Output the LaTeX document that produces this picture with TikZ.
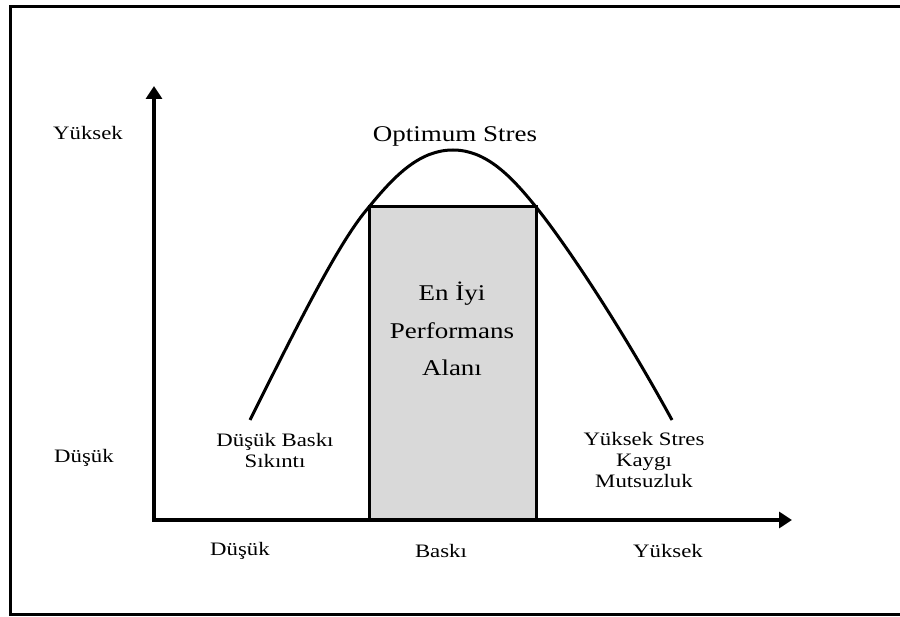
\documentclass[tikz,border=0pt]{standalone}
\usepackage{fontspec}
\setmainfont[FakeStretch=1.2]{Liberation Serif}
\usetikzlibrary{arrows.meta}

\begin{document}
\begin{tikzpicture}[x=1pt,y=-1pt,
  lbl/.style={font=\fontsize{19}{21}\selectfont,align=center,inner sep=0pt},
  big/.style={font=\fontsize{22.5}{37.5}\selectfont,align=center,inner sep=0pt},
  axis/.style={line width=3.5pt,-{Triangle[length=13pt,width=16pt]}},
  zone/.style={draw,line width=3pt,fill=black!15}]
  \useasboundingbox (0,0) rectangle (900,617);
  % frame, right side runs off the page
  \begin{scope}
    \clip (0,0) rectangle (900,617);
    \draw[line width=3pt] (10,7) rectangle (930,614);
  \end{scope}
  % best performance zone
  \draw[zone] (369,207) rectangle (536,520);
  \node[big] (zonetext) at (452,329) {En İyi\\Performans\\Alanı};
  % axes
  \coordinate (origin) at (154,520);
  \coordinate (ytip) at (154,86);
  \coordinate (xtip) at (792,520);
  \draw[axis] ([yshift=1.75pt]origin) -- (ytip);
  \draw[axis] ([xshift=-1.75pt]origin) -- (xtip);
  % stress curve
  \draw[line width=3pt] (250,420) .. controls (300,320) and (340,240) .. (369,207)
    .. controls (395,175) and (420,150) .. (453,150)
    .. controls (486,150) and (511,176) .. (536,207)
    .. controls (565,243) and (620,325) .. (672,420);
  % labels
  \node[big] (peak) at (455,136) {Optimum Stres};
  \node[lbl] (yhigh) at (88,133) {Yüksek};
  \node[lbl] (ylow) at (84,458) {Düşük};
  \node[lbl] (lowzone) at (275,451) {Düşük Baskı\\Sıkıntı};
  \node[lbl] (highzone) at (644,460) {Yüksek Stres\\Kaygı\\Mutsuzluk};
  \node[lbl] (xlow) at (240,551) {Düşük};
  \node[lbl] (xmid) at (441,551) {Baskı};
  \node[lbl] (xhigh) at (668,551) {Yüksek};
\end{tikzpicture}
\end{document}
